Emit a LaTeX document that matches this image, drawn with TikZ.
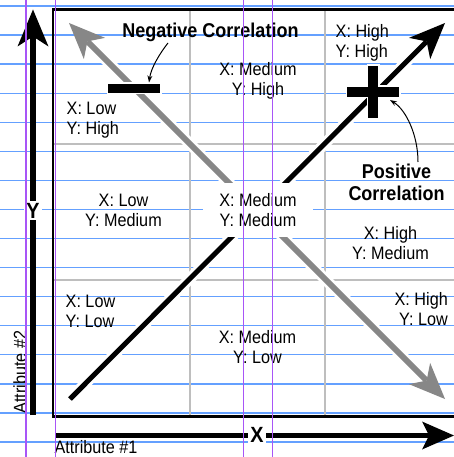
\documentclass[tikz,border=0pt]{standalone}
\usepackage{fontspec}
\setmainfont[FakeStretch=0.9]{Liberation Sans}
\usetikzlibrary{arrows.meta}
\definecolor{notebookblue}{RGB}{100,160,255}
\definecolor{marginpurple}{RGB}{168,85,247}
\definecolor{gridgray}{RGB}{190,190,190}
\definecolor{arrowgray}{RGB}{135,135,135}
\begin{document}
\begin{tikzpicture}[x=1pt,y=-1pt,
  rule/.style={draw=notebookblue, line width=1.3pt},
  marginline/.style={draw=marginpurple, line width=1.3pt},
  gridline/.style={draw=gridgray, line width=2.7pt},
  frameline/.style={draw=black, line width=2.7pt, line join=miter},
  cell/.style={font=\fontsize{18}{20}\selectfont, inner sep=0pt},
  callout/.style={font=\fontsize{20}{22}\selectfont\bfseries, inner sep=0pt},
  axislabel/.style={font=\fontsize{22}{24}\selectfont\bfseries, fill=white, inner sep=2pt},
  attrlabel/.style={font=\fontsize{18}{20}\selectfont, inner sep=0pt},
  halo/.style={draw=white, line width=11pt},
  bigtip/.tip={Stealth[length=36pt,width=30pt,inset=10pt,line width=0pt]},
  annot/.style={draw=black, line width=1pt, -{Stealth[length=7pt,width=5pt,line width=0pt]}},
]
\useasboundingbox (0,0) rectangle (454,457);
\fill[white] (0,0) rectangle (454,457);
% notebook rules
\foreach \k in {0,...,15} {\draw[rule] (0,{6+29.07*\k}) -- (454,{6+29.07*\k});}
% grid
\draw[gridline] (190,9.5) -- (190,416.5);
\draw[gridline] (325,9.5) -- (325,416.5);
\draw[gridline] (53,144) -- (454,144);
\draw[gridline] (53,280) -- (454,280);
% frame
\draw[frameline] (454,9.5) -- (53,9.5) -- (53,416.5) -- (454,416.5);
% diagonals
\coordinate (bs) at (70,399);
\coordinate (bt) at (445,23);
\coordinate (gs) at (69,23);
\coordinate (gt) at (445,399);
\draw[halo, shorten <=30pt, shorten >=30pt] (gs) -- (gt);
\draw[halo, shorten >=30pt] (bs) -- (bt);
\draw[arrowgray, line width=6pt, bigtip-bigtip] (gs) -- (gt);
\draw[black, line width=5pt, -bigtip] (bs) -- (bt);
% minus bar
\node[fill=black, draw=white, line width=1.5pt, minimum width=53.5pt, minimum height=10.5pt, inner sep=0pt] (neg) at (134,88.5) {};
% plus sign
\coordinate (pos) at (373,92);
\begin{scope}[shift={(pos)}]
\fill[white] (-27.5,-6.5) rectangle (27.5,6.5);
\fill[white] (-6.5,-27.5) rectangle (6.5,27.5);
\fill[black] (-26,-5) rectangle (26,5);
\fill[black] (-5,-26) rectangle (5,26);
\end{scope}
% center box
\node[cell, fill=white, align=center, minimum width=110pt, minimum height=54pt] (mm) at (258,209.8) {X: Medium\\Y: Medium};
% cell labels
\node[cell, anchor=north west, align=left] (lh) at (66.5,101.7) {X: Low\\Y: High};
\node[cell, anchor=north, align=center] (mh) at (258,62) {X: Medium\\Y: High};
\node[cell, anchor=north west, align=left] (hh) at (335.5,24) {X: High\\Y: High};
\node[cell, anchor=north, align=center] (lm) at (123.5,193.5) {X: Low\\Y: Medium};
\node[cell, anchor=north, align=center] (hm) at (390.5,226.7) {X: High\\Y: Medium};
\node[cell, anchor=north west, align=left] (ll) at (65.5,295.3) {X: Low\\Y: Low};
\node[cell, anchor=north, align=center] (ml) at (257.5,330.3) {X: Medium\\Y: Low};
\node[cell, anchor=north east, align=right] (hl) at (448,292) {X: High\\Y: Low};
% callouts
\node[callout, anchor=north] (negl) at (210.5,23.3) {Negative Correlation};
\node[callout, anchor=north, align=center] (posl) at (396.5,164.3) {Positive\\Correlation};
\coordinate (nega) at (168,43);
\draw[annot] (nega) .. controls (160,53) and (151,68) .. ([xshift=15pt]neg.north);
\coordinate (posa) at (418,162);
\coordinate (postip) at (390,100);
\draw[annot] (posa) .. controls (418,135) and (406,110) .. (postip);
% axes
\coordinate (ybot) at (33,415);
\coordinate (ytop) at (33,9.5);
\draw[black, line width=6pt, -{Stealth[length=37pt,width=31pt,inset=10pt,line width=0pt]}] (ybot) -- (ytop);
\coordinate (xl) at (55,435.5);
\coordinate (xr) at (454,435.5);
\draw[black, line width=5pt, -{Stealth[length=32pt,width=28pt,inset=7pt,line width=0pt]}] (xl) -- (xr);
\node[axislabel] (ylab) at (33,210.5) {Y};
\node[axislabel] (xlab) at (257,434.5) {X};
\node[attrlabel, rotate=90] (a2) at (20,372) {Attribute \#2};
\node[attrlabel, anchor=north] (a1) at (96,440.3) {Attribute \#1};
% margin lines
\foreach \x in {26,55.5,243.2,272.8} {\draw[marginline] (\x,0) -- (\x,457);}
\end{tikzpicture}
\end{document}
